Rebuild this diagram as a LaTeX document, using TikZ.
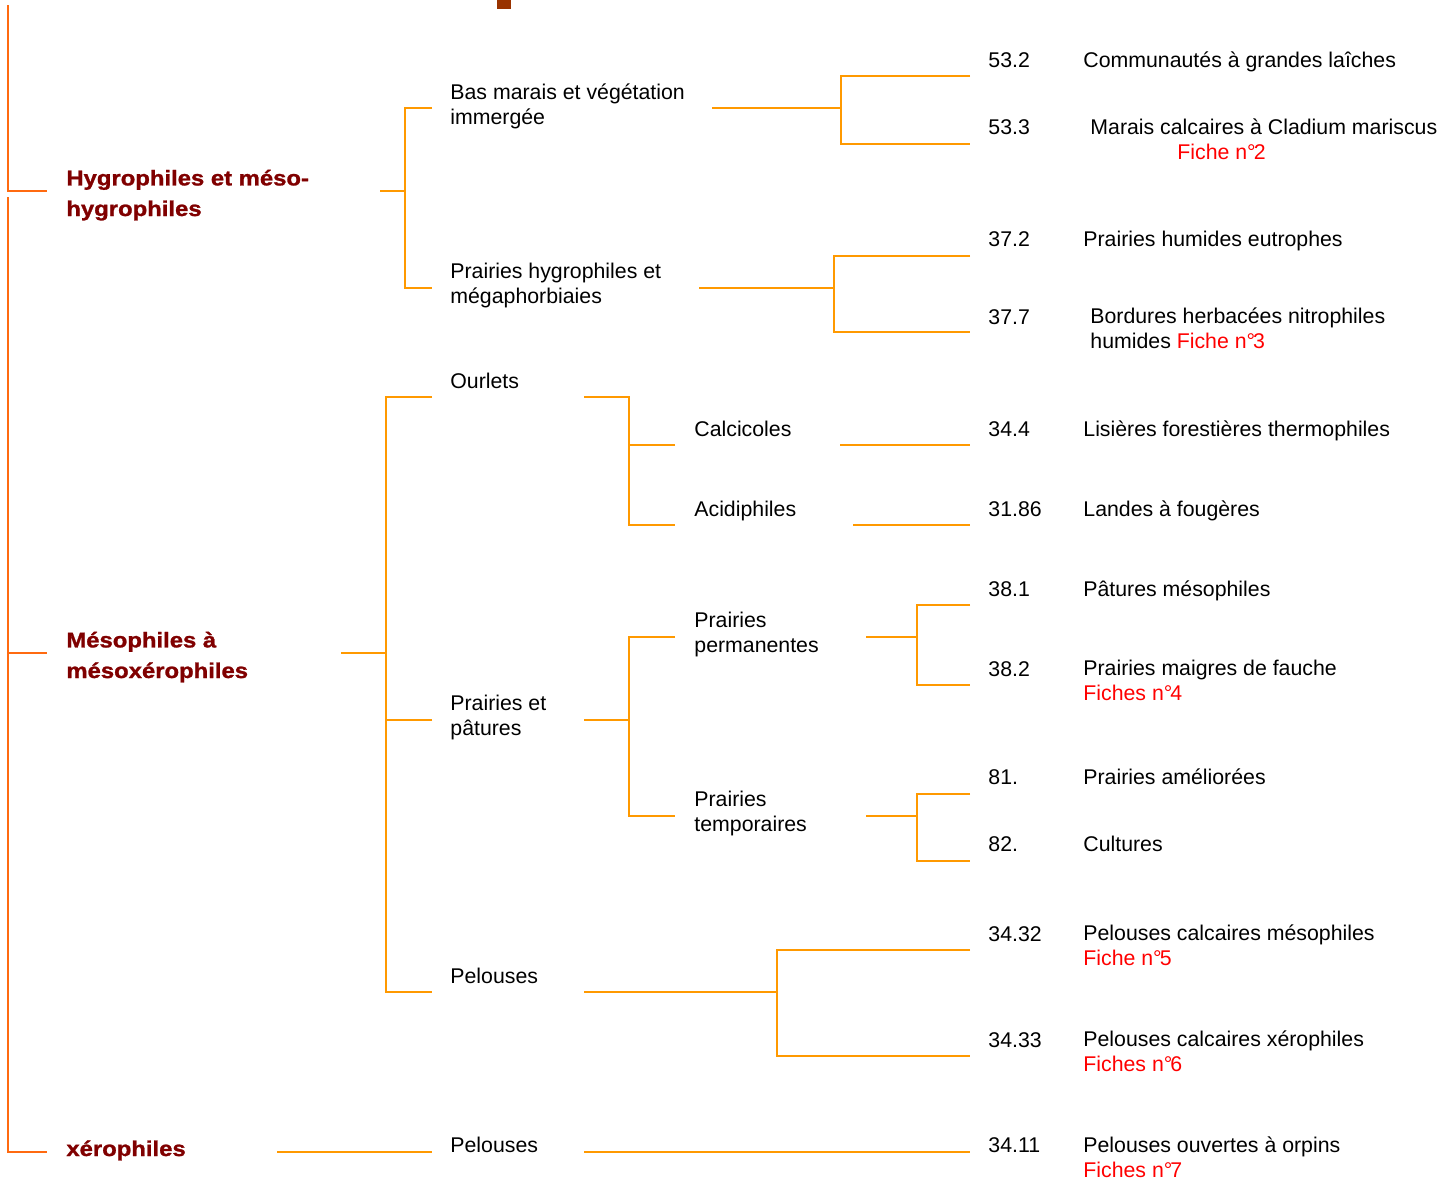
\documentclass[tikz,border=0pt]{standalone}
\usepackage{fontspec}
\setmainfont{Liberation Sans}
\newfontfamily\heavy[FakeStretch=1.12, FakeBold=1.2]{Liberation Sans Bold}
\usepackage{tikz}
\usetikzlibrary{positioning}
\definecolor{linkorange}{HTML}{FF9900}
\definecolor{mainorange}{HTML}{FF6A10}
\definecolor{grpred}{HTML}{800000}
\definecolor{ficheRed}{HTML}{FF0000}
\definecolor{markbrown}{HTML}{993300}
\tikzset{
  link/.style={draw=linkorange, line width=1pt},
  main/.style={draw=mainorange, line width=1pt},
  txt/.style={anchor=base west, inner sep=0pt, align=left, font=\fontsize{10.65}{12.3}\selectfont},
  grp/.style={txt, text=grpred, font=\heavy\fontsize{10.65}{15.3}\selectfont},
  code/.style={txt},
}
\newcommand{\fiche}[1]{{\color{ficheRed}#1}}

\begin{document}
\begin{tikzpicture}[x=0.5pt, y=-0.5pt]
  \useasboundingbox (0,0) rectangle (1455,1178);
  \fill[markbrown] (497,0) rectangle (511,9);

  % groups (multi-line nodes sit on their last baseline)
  \node[grp] (hyg) at (66,216) {Hygrophiles et méso-\\hygrophiles};
  \node[grp] (meso) at (66,678) {Mésophiles à\\mésoxérophiles};
  \node[grp] (xero) at (66,1156) {xérophiles};

  % second level
  \node[txt] (bas) at (450,124) {Bas marais et végétation\\immergée};
  \node[txt] (phyg) at (450,303) {Prairies hygrophiles et\\mégaphorbiaies};
  \node[txt] (ourl) at (450,388) {Ourlets};
  \node[txt] (ppat) at (450,735) {Prairies et\\pâtures};
  \node[txt] (pel) at (450,983) {Pelouses};
  \node[txt] (pelx) at (450,1152) {Pelouses};

  % third level
  \node[txt] (calc) at (694,436) {Calcicoles};
  \node[txt] (acid) at (694,516) {Acidiphiles};
  \node[txt] (pperm) at (694,652) {Prairies\\permanentes};
  \node[txt] (ptemp) at (694,831) {Prairies\\temporaires};

  % codes
  \node[code] (n532) at (988,67) {53.2};
  \node[code] (n533) at (988,134) {53.3};
  \node[code] (n372) at (988,246) {37.2};
  \node[code] (n377) at (988,324) {37.7};
  \node[code] (n344) at (988,436) {34.4};
  \node[code] (n3186) at (988,516) {31.86};
  \node[code] (n381) at (988,596) {38.1};
  \node[code] (n382) at (988,676) {38.2};
  \node[code] (n81) at (988,784) {81.};
  \node[code] (n82) at (988,851) {82.};
  \node[code] (n3432) at (988,941) {34.32};
  \node[code] (n3433) at (988,1047) {34.33};
  \node[code] (n3411) at (988,1152) {34.11};

  % habitats
  \node[txt] (h532) at (1083,67) {Communautés à grandes laîches};
  \node[txt] (h533) at (1090,134) {Marais calcaires à Cladium mariscus};
  \node[txt] (f2) at (1177,159) {\fiche{Fiche n°\kern-1pt2}};
  \node[txt] (h372) at (1083,246) {Prairies humides eutrophes};
  \node[txt] (h377) at (1090,348) {Bordures herbacées nitrophiles\\humides \fiche{Fiche n°\kern-1pt3}};
  \node[txt] (h344) at (1083,436) {Lisières forestières thermophiles};
  \node[txt] (h3186) at (1083,516) {Landes à fougères};
  \node[txt] (h381) at (1083,596) {Pâtures mésophiles};
  \node[txt] (h382) at (1083,700) {Prairies maigres de fauche\\\fiche{Fiches n°\kern-1pt4}};
  \node[txt] (h81) at (1083,784) {Prairies améliorées};
  \node[txt] (h82) at (1083,851) {Cultures};
  \node[txt] (h3432) at (1083,965) {Pelouses calcaires mésophiles\\\fiche{Fiche n°\kern-1pt5}};
  \node[txt] (h3433) at (1083,1071) {Pelouses calcaires xérophiles\\\fiche{Fiches n°\kern-1pt6}};
  \node[txt] (h3411) at (1083,1177) {Pelouses ouvertes à orpins\\\fiche{Fiches n°\kern-1pt7}};

  % line ends
  \coordinate (top1) at (8,5);
  \coordinate (top2) at (8,197);
  \coordinate (hygL) at (47,191);
  \coordinate (mesoL) at (47,653);
  \coordinate (xeroL) at (47,1152);
  \coordinate (hygR) at (380,191);
  \coordinate (hygJ) at (405,191);
  \coordinate (mesoR) at (341,653);
  \coordinate (mesoJ) at (386,653);
  \coordinate (xeroR) at (277,1152);
  \coordinate (basL) at (432,108);
  \coordinate (basR) at (712,108);
  \coordinate (basJ) at (841,108);
  \coordinate (phygL) at (432,288);
  \coordinate (phygR) at (699,288);
  \coordinate (phygJ) at (834,288);
  \coordinate (ourlL) at (432,397);
  \coordinate (ourlR) at (584,397);
  \coordinate (ourlJ) at (629,397);
  \coordinate (ppatL) at (432,720);
  \coordinate (ppatR) at (584,720);
  \coordinate (ppatJ) at (629,720);
  \coordinate (pelL) at (432,992);
  \coordinate (pelR) at (584,992);
  \coordinate (pelJ) at (777,992);
  \coordinate (pelxL) at (432,1152);
  \coordinate (pelxR) at (584,1152);
  \coordinate (calcL) at (675,445);
  \coordinate (calcR) at (840,445);
  \coordinate (acidL) at (675,525);
  \coordinate (acidR) at (853,525);
  \coordinate (ppermL) at (675,637);
  \coordinate (ppermR) at (866,637);
  \coordinate (ppermJ) at (917,637);
  \coordinate (ptempL) at (675,816);
  \coordinate (ptempR) at (866,816);
  \coordinate (ptempJ) at (917,816);
  \coordinate (n532L) at (970,76);
  \coordinate (n533L) at (970,144);
  \coordinate (n372L) at (970,256);
  \coordinate (n377L) at (970,332);
  \coordinate (n344L) at (970,445);
  \coordinate (n3186L) at (970,525);
  \coordinate (n381L) at (970,605);
  \coordinate (n382L) at (970,685);
  \coordinate (n81L) at (970,794);
  \coordinate (n82L) at (970,861);
  \coordinate (n3432L) at (970,950);
  \coordinate (n3433L) at (970,1056);
  \coordinate (n3411L) at (970,1152);

  % left bars
  \draw[main] (top1) |- (hygL);
  \draw[main] (top2) |- (xeroL);
  \draw[main] (top2 |- mesoL) -- (mesoL);

  % brackets
  \draw[link] (hygR) -- (hygJ);
  \draw[link] (basL) -| (hygJ) |- (phygL);
  \draw[link] (basR) -- (basJ);
  \draw[link] (n532L) -| (basJ) |- (n533L);
  \draw[link] (phygR) -- (phygJ);
  \draw[link] (n372L) -| (phygJ) |- (n377L);
  \draw[link] (mesoR) -- (mesoJ);
  \draw[link] (ourlL) -| (mesoJ) |- (pelL);
  \draw[link] (ppatL) -- (ppatL -| mesoJ);
  \draw[link] (ourlR) -- (ourlJ) |- (acidL);
  \draw[link] (calcL) -- (calcL -| ourlJ);
  \draw[link] (calcR) -- (n344L);
  \draw[link] (acidR) -- (n3186L);
  \draw[link] (ppatR) -- (ppatJ);
  \draw[link] (ppermL) -| (ppatJ) |- (ptempL);
  \draw[link] (ppermR) -- (ppermJ);
  \draw[link] (n381L) -| (ppermJ) |- (n382L);
  \draw[link] (ptempR) -- (ptempJ);
  \draw[link] (n81L) -| (ptempJ) |- (n82L);
  \draw[link] (pelR) -- (pelJ);
  \draw[link] (n3432L) -| (pelJ) |- (n3433L);
  \draw[link] (xeroR) -- (pelxL);
  \draw[link] (pelxR) -- (n3411L);
\end{tikzpicture}
\end{document}
